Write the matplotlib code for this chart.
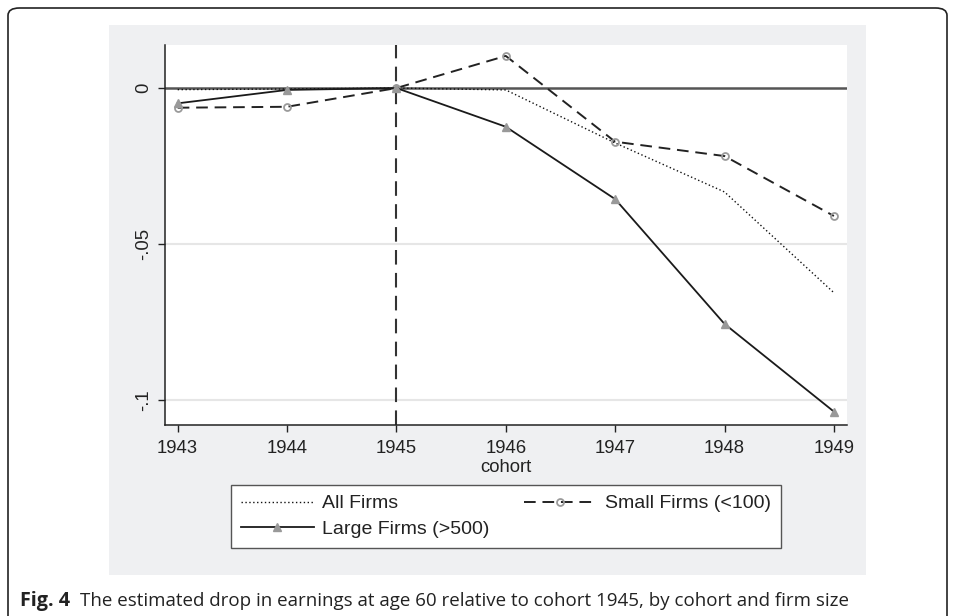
import numpy as np
import matplotlib.pyplot as plt
import matplotlib.patches as mpatches

# data
cohorts = [1943, 1944, 1945, 1946, 1947, 1948, 1949]
all_firms = [-0.0005, -0.0003, 0.0, -0.0006, -0.0176, -0.0333, -0.0656]
small_firms = [-0.0063, -0.0060, 0.0, 0.0103, -0.0172, -0.0218, -0.0410]
large_firms = [-0.0049, -0.0006, 0.0, -0.0124, -0.0356, -0.0756, -0.1037]
yticks = [0, -0.05, -0.1]
ytick_labels = ["0", "-.05", "-.1"]

plt.rcParams['font.family'] = ['Liberation Sans', 'DejaVu Sans']

W, H = 955, 616
fig = plt.figure(figsize=(W / 100, H / 100), dpi=100)
fig.patch.set_facecolor("white")

# outer rounded frame
frame = mpatches.FancyBboxPatch((8 / W, -0.05), (947 - 8) / W, (1 - 8 / H) + 0.05,
                                boxstyle="round,pad=0,rounding_size=0.012",
                                transform=fig.transFigure, fill=False,
                                ec="#222222", lw=1.2, clip_on=False, zorder=-2)
fig.patches.append(frame)

# stata-like grey graph region
bg = mpatches.Rectangle((109 / W, 1 - 575 / H), (866 - 109) / W, (575 - 25) / H,
                        transform=fig.transFigure, fc="#eff0f2", ec="none", zorder=-1)
fig.patches.append(bg)

ax = fig.add_axes([165 / W, 1 - 425 / H, (847 - 165) / W, (425 - 45) / H])
ax.set_facecolor("white")

ax.axhline(-0.05, color="#e6e6e6", lw=1.5, zorder=1)
ax.axhline(-0.1, color="#e6e6e6", lw=1.5, zorder=1)
ax.axhline(0, color="#555555", lw=1.8, zorder=2)
ax.axvline(1945, color="#333333", lw=1.5, linestyle=(0, (7, 4)), zorder=2)

l_all, = ax.plot(cohorts, all_firms, color="#111111", lw=1.0,
                 linestyle=(0, (1, 1.8)), zorder=3, label="All Firms")
l_small, = ax.plot(cohorts, small_firms, color="#222222", lw=1.4,
                   linestyle=(0, (6, 3.5)), marker="o", ms=5, mfc="none",
                   mec="#9a9a9a", mew=1.3, zorder=4, label="Small Firms (<100)")
l_large, = ax.plot(cohorts, large_firms, color="#1a1a1a", lw=1.3,
                   marker="^", ms=6, mfc="#999999", mec="#999999", zorder=4,
                   label="Large Firms (>500)")

ax.set_xlim(1942.884, 1949.12)
ax.set_ylim(-0.108, 0.0138)
ax.set_xticks(cohorts)
ax.set_xticklabels([str(c) for c in cohorts])
ax.set_yticks(yticks)
ax.set_yticklabels(ytick_labels, rotation=90, va="center")
ax.tick_params(axis="both", direction="out", length=5, width=1, color="#222222",
               labelsize=13.3, labelcolor="#222222", pad=6)
ax.tick_params(axis="y", pad=4)
for s in ["top", "right"]:
    ax.spines[s].set_visible(False)
for s in ["left", "bottom"]:
    ax.spines[s].set_color("#222222")
    ax.spines[s].set_linewidth(1.1)
ax.set_xlabel("cohort", fontsize=13.3, color="#222222", labelpad=1)

leg = fig.legend([l_all, l_large, l_small],
                 ["All Firms", "Large Firms (>500)", "Small Firms (<100)"],
                 ncol=2, loc="upper left",
                 bbox_to_anchor=(231 / W, 1 - 485 / H),
                 fontsize=14, frameon=True, fancybox=False, framealpha=1,
                 facecolor="white", handlelength=3.75,
                 handletextpad=0.45, borderpad=0.5, borderaxespad=0,
                 labelspacing=0.42, columnspacing=1.75)
leg.get_frame().set_edgecolor("#555555")
leg.get_frame().set_linewidth(1.0)
for t in leg.get_texts():
    t.set_color("#222222")

# caption
cap_y = 1 - 606 / H
fig.text(20 / W, cap_y, "Fig. 4", fontsize=14.2, fontweight="bold",
         family="Open Sans", color="#222222", va="baseline")
fig.text(80 / W, cap_y,
         "The estimated drop in earnings at age 60 relative to cohort 1945, by cohort and firm size",
         fontsize=13.5, family="Open Sans", color="#222222", va="baseline")

fig.savefig("out.png", dpi=100)
